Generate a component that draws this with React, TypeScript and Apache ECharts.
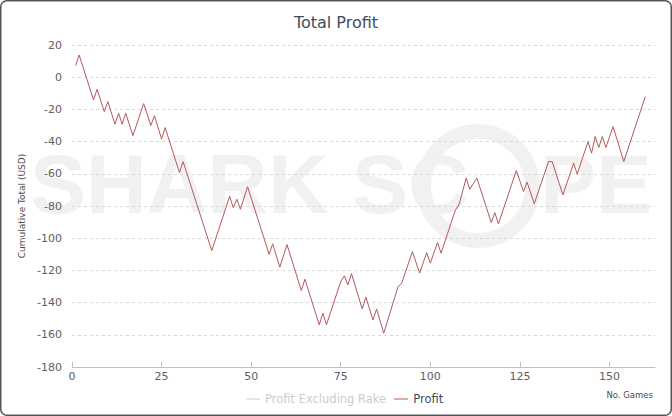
import React, { useEffect, useRef } from "react";
import * as echarts from "echarts";

const games = [1, 2, 6, 7, 9, 10, 12, 13, 14, 15, 17, 20, 22, 23, 25, 26, 30, 31, 39, 44, 45, 46, 47, 49, 55, 56, 58, 60, 64, 65, 69, 70, 71, 75, 76, 77, 78, 81, 82, 84, 85, 87, 91, 92, 95, 97, 99, 100, 102, 103, 107, 108, 110, 111, 113, 117, 118, 119, 124, 126, 127, 129, 133, 134, 137, 140, 141, 144, 145, 146, 147, 148, 149, 151, 154, 160];
const profit = [7.2, 13.8, -14.1, -7.5, -21.4, -15.2, -29.2, -22.4, -29.2, -22.4, -36.3, -16.4, -30, -23.9, -38.5, -31.3, -59.3, -52.4, -107.7, -74, -81, -75.8, -82, -68, -110, -103.5, -118, -104, -132.5, -125.5, -153.8, -146.6, -153.8, -127, -123.4, -129, -122, -144, -136.6, -150.7, -144, -159, -130, -128, -108.3, -121.7, -109, -115.5, -102.7, -109.3, -82.4, -79.3, -62.7, -69.6, -62.7, -90.3, -84.1, -91.1, -58, -71, -65.2, -78.6, -52.4, -52.4, -73.1, -53.4, -60.2, -40, -47.2, -36.9, -43.7, -36.9, -43.7, -30.7, -52.4, -12];
const profitExRake: number[][] = [];
const xTickValues = [0, 25, 50, 75, 100, 125, 150];
const seriesNames = ["Profit Excluding Rake", "Profit"];

export default function App() {
  const ref = useRef<HTMLDivElement>(null);
  useEffect(() => {
    document.body.style.margin = "0";
    const chart = echarts.init(ref.current!, null, { renderer: "svg" });
    const font = "DejaVu Sans";
    const wm = "#f1f1f1";
    chart.setOption({
      animation: false,
      backgroundColor: "#ffffff",
      textStyle: { fontFamily: font },
      title: {
        text: "Total Profit",
        left: "center",
        top: 9,
        textStyle: { color: "#3e4d5c", fontSize: 16, fontWeight: "normal", fontFamily: font },
      },
      grid: { left: 72, right: 17, top: 45, bottom: 49 },
      xAxis: {
        type: "value",
        min: 0,
        max: 162.7,
        axisLine: { show: true, onZero: false, lineStyle: { color: "#c0c0c0", width: 1 } },
        axisTick: { show: true, inside: true, length: 5, customValues: xTickValues, lineStyle: { color: "#c0c0c0" } },
        axisLabel: { customValues: xTickValues, color: "#606060", fontSize: 11, margin: 4, fontFamily: font },
        splitLine: { show: false },
      },
      yAxis: {
        type: "value",
        min: -180,
        max: 20,
        interval: 20,
        name: "Cumulative Total (USD)",
        nameLocation: "middle",
        nameGap: 45,
        nameTextStyle: { fontSize: 9, color: "#4d4d4d", fontFamily: font },
        axisLine: { show: false },
        axisTick: { show: false },
        axisLabel: { color: "#606060", fontSize: 11, margin: 10, fontFamily: font },
        splitLine: { lineStyle: { color: "#d8d8d8", type: [3, 3], width: 1 } },
      },
      legend: {
        left: 241,
        top: 388,
        icon: "rect",
        itemWidth: 14,
        itemHeight: 1,
        itemGap: 8,
        inactiveColor: "#cccccc",
        textStyle: { fontSize: 11.5, color: "#3e4d5c", fontFamily: font },
        data: seriesNames,
        selected: { "Profit Excluding Rake": false, Profit: true },
      },
      graphic: [
        {
          type: "rect",
          z: 100,
          shape: { x: 0.75, y: 0.75, width: 670.5, height: 414.5, r: 6 },
          style: { fill: "none", stroke: "#555555", lineWidth: 1.5 },
          silent: true,
        },
        {
          type: "text",
          z: -1,
          left: 30,
          top: 142,
          style: { text: "SHARK SC", fill: wm, font: "bold 84px 'Liberation Sans'" },
          silent: true,
        },
        {
          type: "ring",
          z: -1,
          shape: { cx: 478, cy: 186, r: 62, r0: 47 },
          style: { fill: wm },
          silent: true,
        },
        {
          type: "text",
          z: -1,
          left: 540,
          top: 142,
          style: { text: "PE", fill: wm, font: "bold 84px 'Liberation Sans'" },
          silent: true,
        },
        {
          type: "text",
          z: 10,
          right: 19,
          top: 390,
          style: { text: "No. Games", fill: "#4d4d4d", font: "8.5px 'DejaVu Sans'" },
          silent: true,
        },
      ],
      series: [
        {
          name: seriesNames[0],
          type: "line",
          data: profitExRake,
          color: "#aaaaaa",
          symbol: "none",
        },
        {
          name: seriesNames[1],
          type: "line",
          data: games.map((g, i) => [g, profit[i]]),
          color: "#b5585a",
          symbol: "none",
          showSymbol: false,
          lineStyle: { width: 1, color: "#b5585a" },
          z: 3,
        },
      ],
    });
    return () => chart.dispose();
  }, []);
  return <div ref={ref} style={{ width: 672, height: 416 }} />;
}
